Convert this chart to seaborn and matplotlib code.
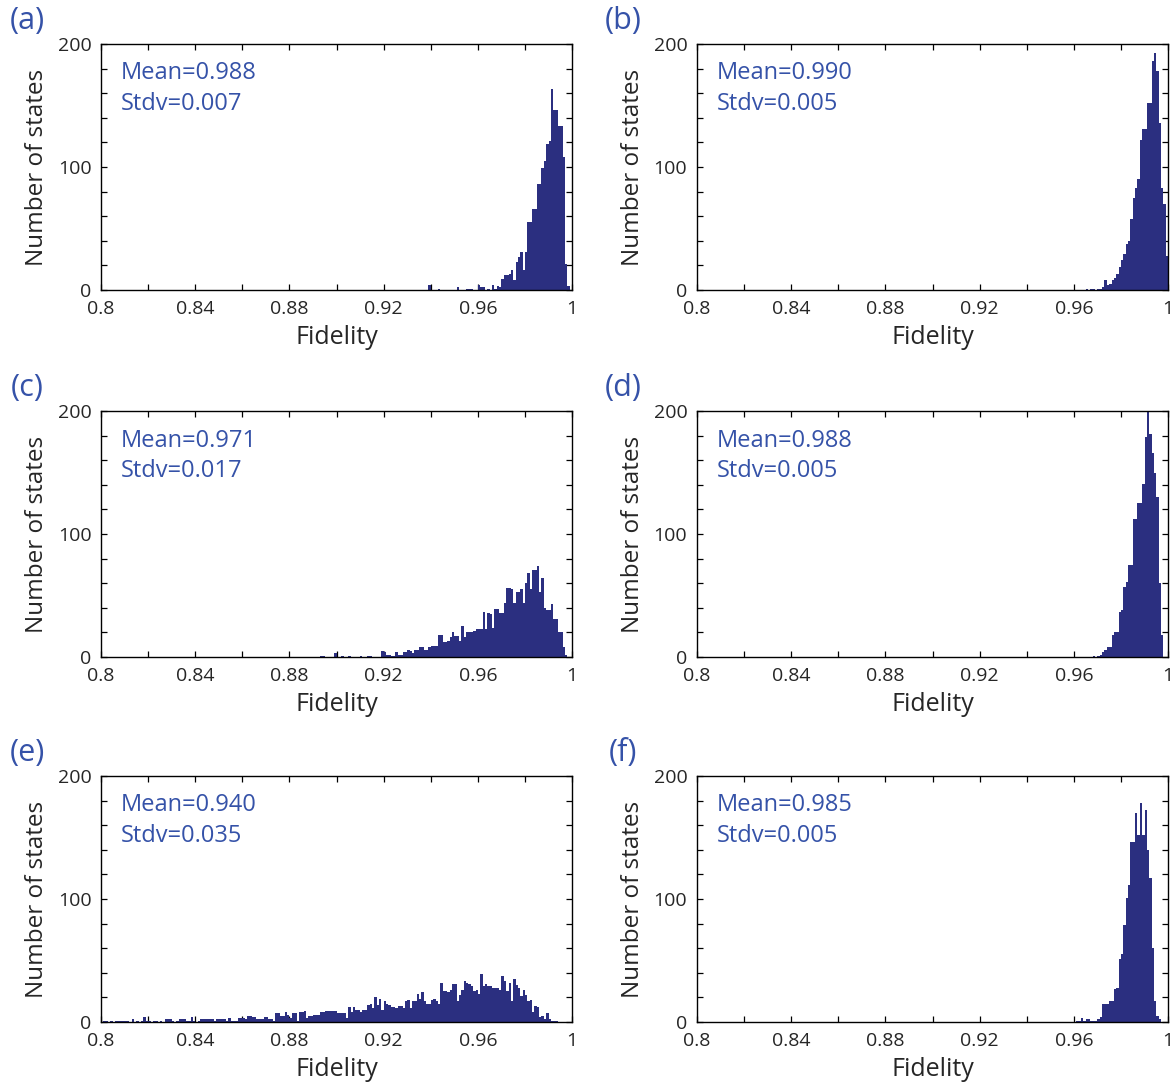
import numpy as np
import pandas as pd
import matplotlib
matplotlib.use("Agg")
import matplotlib.pyplot as plt
import seaborn as sns
from matplotlib.ticker import MultipleLocator

# Histogram counts per 0.001-wide fidelity bin
start_a = 0.939
counts_a = [4, 0, 0, 0, 1, 0, 0, 0, 0, 0, 0, 0, 2, 0, 0, 0, 1, 1, 1, 0,
            0, 4, 2, 2, 0, 1, 0, 4, 1, 3, 2, 9, 12, 12, 13, 16, 8, 23, 27, 31,
            16, 31, 55, 55, 66, 66, 86, 86, 99, 105, 119, 121, 163, 146, 146, 133, 133, 108, 21, 3]

start_b = 0.965
counts_b = [1, 0, 1, 1, 0, 1, 1, 2, 8, 4, 5, 8, 10, 13, 19, 24, 29, 37, 40, 58,
            75, 83, 90, 122, 131, 131, 152, 152, 186, 193, 178, 136, 83, 70, 28]

start_c = 0.893
counts_c = [1, 1, 0, 0, 0, 0, 3, 0, 0, 1, 0, 0, 1, 0, 0, 0, 0, 1, 0, 0,
            1, 1, 0, 0, 0, 0, 5, 4, 2, 2, 1, 1, 4, 2, 2, 4, 4, 6, 5, 3,
            6, 6, 8, 8, 6, 6, 8, 9, 9, 9, 18, 18, 12, 12, 13, 16, 20, 17, 17, 13,
            25, 16, 20, 20, 20, 21, 23, 23, 23, 37, 23, 36, 35, 24, 39, 39, 36, 36, 44, 56,
            56, 55, 44, 53, 53, 55, 44, 60, 68, 55, 71, 71, 74, 53, 64, 40, 38, 38, 43, 31,
            31, 20, 20, 8, 2]

start_d = 0.968
counts_d = [1, 0, 1, 2, 4, 6, 8, 8, 18, 20, 20, 37, 38, 57, 61, 75, 75, 112, 112, 125,
            125, 141, 179, 200, 181, 166, 150, 130, 60, 18]

start_e = 0.800
counts_e = [0, 1, 1, 0, 1, 0, 1, 1, 1, 1, 1, 1, 0, 2, 0, 1, 0, 1, 4, 1,
            1, 0, 1, 1, 0, 1, 0, 2, 2, 2, 1, 0, 1, 2, 2, 2, 1, 1, 4, 1,
            0, 1, 2, 2, 2, 2, 2, 2, 1, 2, 2, 2, 2, 1, 3, 1, 1, 1, 3, 3,
            3, 2, 5, 5, 4, 4, 2, 2, 2, 4, 4, 2, 2, 1, 7, 7, 5, 5, 8, 6,
            3, 7, 7, 1, 8, 8, 9, 3, 5, 5, 6, 6, 6, 8, 8, 9, 9, 9, 9, 9,
            7, 7, 7, 7, 3, 12, 8, 12, 10, 10, 8, 10, 10, 14, 15, 11, 20, 14, 19, 10,
            17, 15, 14, 12, 12, 11, 13, 13, 11, 17, 18, 11, 17, 17, 23, 19, 24, 17, 15, 15,
            18, 19, 17, 15, 32, 25, 25, 24, 26, 31, 31, 17, 22, 26, 33, 32, 31, 29, 25, 26,
            23, 39, 29, 31, 29, 29, 28, 28, 28, 26, 37, 33, 25, 32, 17, 35, 30, 28, 21, 26,
            22, 17, 18, 8, 13, 12, 4, 5, 2, 7, 2, 1, 1, 1]

start_f = 0.961
counts_f = [1, 1, 3, 1, 2, 2, 1, 1, 1, 2, 4, 15, 15, 15, 17, 17, 27, 28, 51, 55,
            79, 101, 111, 146, 146, 170, 152, 178, 152, 172, 140, 117, 60, 17, 5, 2]

panels = ["(a)", "(b)", "(c)", "(d)", "(e)", "(f)"]
means = ["0.988", "0.990", "0.971", "0.988", "0.940", "0.985"]
stdvs = ["0.007", "0.005", "0.017", "0.005", "0.035", "0.005"]
starts = [start_a, start_b, start_c, start_d, start_e, start_f]
counts = [counts_a, counts_b, counts_c, counts_d, counts_e, counts_f]

x_ticks = [0.8, 0.84, 0.88, 0.92, 0.96, 1.0]
x_labels = ["0.8", "0.84", "0.88", "0.92", "0.96", "1"]
y_ticks = [0, 100, 200]

bar_color = "#2b2f80"
text_blue = "#3552a8"

sns.set_theme(style="ticks")
plt.rcParams["font.family"] = ["Open Sans", "DejaVu Sans"]
plt.rcParams["axes.linewidth"] = 1.0

fig = plt.figure(figsize=(11.75, 10.88), dpi=100)

lefts = [0.086, 0.5932]
bottoms = [0.7335, 0.3961, 0.0607]
w, h = 0.4009, 0.2261

for i in range(6):
    row, col = divmod(i, 2)
    ax = fig.add_axes([lefts[col], bottoms[row], w, h])
    c = counts[i]
    df = pd.DataFrame({
        "fid": starts[i] + 0.0005 + 0.001 * np.arange(len(c)),
        "n": np.asarray(c, dtype=float),
    })
    sns.histplot(data=df, x="fid", weights="n", binwidth=0.001,
                 binrange=(0.8, 1.0), ax=ax,
                 color=bar_color, alpha=1, linewidth=0, edgecolor=bar_color)
    ax.set_xlim(0.8, 1.0)
    ax.set_ylim(0, 200)
    ax.set_xticks(x_ticks)
    ax.set_xticklabels(x_labels)
    ax.set_yticks(y_ticks)
    ax.xaxis.set_minor_locator(MultipleLocator(0.02))
    ax.yaxis.set_minor_locator(MultipleLocator(20))
    ax.tick_params(which="both", direction="in", top=True, right=True,
                   length=4, width=0.9, color="black")
    ax.tick_params(axis="x", which="major", labelsize=14, pad=7)
    ax.tick_params(axis="y", which="major", labelsize=14, pad=7)
    for lab in ax.get_yticklabels():
        lab.set_va("center_baseline")
    ax.set_xlabel("Fidelity", fontsize=18, labelpad=5)
    ax.set_ylabel("Number of states", fontsize=17.5, labelpad=6)
    for s in ax.spines.values():
        s.set_color("black")
    ax.text(0.042, 0.88, "Mean=" + means[i], transform=ax.transAxes,
            color=text_blue, fontsize=17, va="center", ha="left")
    ax.text(0.042, 0.755, "Stdv=" + stdvs[i], transform=ax.transAxes,
            color=text_blue, fontsize=17, va="center", ha="left")
    fig.text(lefts[col] - 0.063, bottoms[row] + h + 0.021, panels[i],
             color=text_blue, fontsize=22, va="center", ha="center")

fig.savefig("out.png", dpi=100)
